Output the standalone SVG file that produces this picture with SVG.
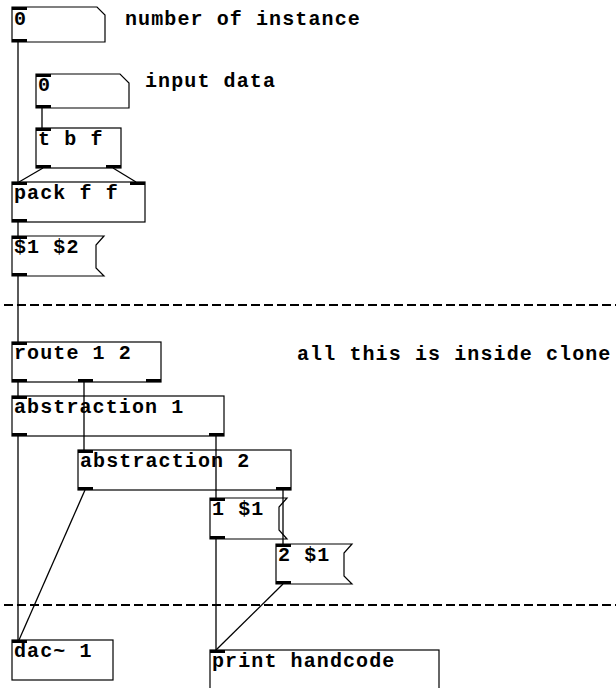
<svg xmlns="http://www.w3.org/2000/svg" width="616" height="688" viewBox="0 0 616 688">
<style>
.box{fill:none;stroke:#000;stroke-width:1.2}
.io{fill:#000}
.cn{stroke:#000;stroke-width:1.3;fill:none}
.dash{stroke:#000;stroke-width:2;stroke-dasharray:9 4;fill:none}
text{font-family:"Liberation Mono","Courier New",monospace;font-weight:bold;font-size:20px;letter-spacing:1.1px;fill:#000}
</style>
<rect x="0" y="0" width="616" height="688" fill="#fff"/>
<g id="separators">
<line class="dash" x1="4" y1="305" x2="616" y2="305"/>
<line class="dash" x1="4" y1="605" x2="616" y2="605"/>
</g>
<g id="numbox1">
<path class="box" d="M12,7 H97 L105,15 V42 H12 Z"/>
<rect class="io" x="12" y="7" width="15" height="3"/>
<rect class="io" x="12" y="39" width="15" height="3"/>
<text x="14" y="25">0</text>
</g>
<g id="comment-instance"><text x="125" y="25">number of instance</text></g>
<g id="numbox2">
<path class="box" d="M36,74 H120 L129,83 V108 H36 Z"/>
<rect class="io" x="36" y="74" width="15" height="3"/>
<rect class="io" x="36" y="105" width="15" height="3"/>
<text x="38" y="91">0</text>
</g>
<g id="comment-input"><text x="145" y="87">input data</text></g>
<g id="tbf">
<rect class="box" x="36" y="128" width="85" height="40"/>
<rect class="io" x="36" y="128" width="15" height="3"/>
<rect class="io" x="36" y="165" width="15" height="3"/>
<rect class="io" x="106" y="165" width="15" height="3"/>
<text x="38" y="145">t b f</text>
</g>
<g id="pack">
<rect class="box" x="12" y="182" width="133" height="40"/>
<rect class="io" x="12" y="182" width="15" height="3"/>
<rect class="io" x="130" y="182" width="15" height="3"/>
<rect class="io" x="12" y="219" width="15" height="3"/>
<text x="14" y="199">pack f f</text>
</g>
<g id="msg12">
<path class="box" d="M12,236 H104 L96,245 V268 L104,276 H12 Z"/>
<rect class="io" x="12" y="236" width="15" height="3"/>
<rect class="io" x="12" y="273" width="15" height="3"/>
<text x="14" y="253">$1 $2</text>
</g>
<g id="route">
<rect class="box" x="12" y="342" width="149" height="40"/>
<rect class="io" x="12" y="342" width="15" height="3"/>
<rect class="io" x="12" y="379" width="15" height="3"/>
<rect class="io" x="78" y="379" width="15" height="3"/>
<rect class="io" x="146" y="379" width="15" height="3"/>
<text x="14" y="359">route 1 2</text>
</g>
<g id="comment-clone"><text x="297" y="360">all this is inside clone</text></g>
<g id="abs1">
<rect class="box" x="12" y="396" width="212" height="40"/>
<rect class="io" x="12" y="396" width="15" height="3"/>
<rect class="io" x="12" y="433" width="15" height="3"/>
<rect class="io" x="209" y="433" width="15" height="3"/>
<text x="14" y="413">abstraction 1</text>
</g>
<g id="abs2">
<rect class="box" x="78" y="450" width="213" height="40"/>
<rect class="io" x="78" y="450" width="15" height="3"/>
<rect class="io" x="78" y="487" width="15" height="3"/>
<rect class="io" x="276" y="487" width="15" height="3"/>
<text x="80" y="467">abstraction 2</text>
</g>
<g id="msg1">
<path class="box" d="M210,498 H287 L279,507 V530 L287,539 H210 Z"/>
<rect class="io" x="210" y="498" width="15" height="3"/>
<rect class="io" x="210" y="536" width="15" height="3"/>
<text x="212" y="515">1 $1</text>
</g>
<g id="msg2">
<path class="box" d="M276,544 H352 L344,553 V576 L352,584 H276 Z"/>
<rect class="io" x="276" y="544" width="15" height="3"/>
<rect class="io" x="276" y="581" width="15" height="3"/>
<text x="278" y="561">2 $1</text>
</g>
<g id="dac">
<rect class="box" x="12" y="640" width="101" height="40"/>
<rect class="io" x="12" y="640" width="15" height="3"/>
<text x="14" y="657">dac~ 1</text>
</g>
<g id="print">
<rect class="box" x="210" y="650" width="229" height="50"/>
<rect class="io" x="210" y="650" width="15" height="3"/>
<text x="212" y="667">print handcode</text>
</g>
<g id="connectors">
<line class="cn" x1="18" y1="42" x2="18" y2="182"/>
<line class="cn" x1="42" y1="108" x2="42" y2="128"/>
<line class="cn" x1="43" y1="168" x2="19" y2="182"/>
<line class="cn" x1="113" y1="168" x2="136" y2="182"/>
<line class="cn" x1="18" y1="222" x2="18" y2="236"/>
<line class="cn" x1="18" y1="276" x2="18" y2="342"/>
<line class="cn" x1="18" y1="382" x2="18" y2="396"/>
<line class="cn" x1="84" y1="382" x2="84" y2="450"/>
<line class="cn" x1="18" y1="436" x2="18" y2="640"/>
<line class="cn" x1="216" y1="436" x2="216" y2="498"/>
<line class="cn" x1="216" y1="539" x2="216" y2="650"/>
<line class="cn" x1="283" y1="490" x2="283" y2="544"/>
<line class="cn" x1="283" y1="584" x2="216" y2="650"/>
<line class="cn" x1="85" y1="490" x2="19" y2="640"/>
</g>
</svg>
